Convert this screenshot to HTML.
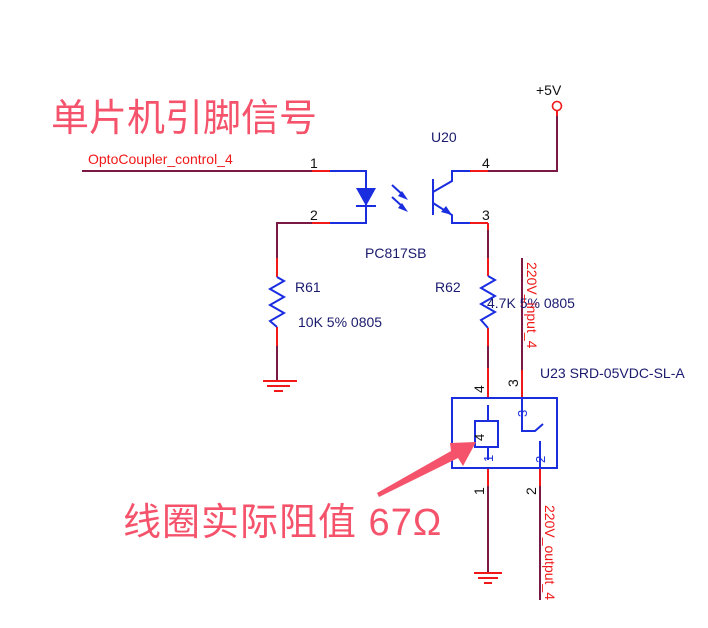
<!DOCTYPE html>
<html><head><meta charset="utf-8"><style>
html,body{margin:0;padding:0;background:#fff;}
svg{display:block;font-family:"Liberation Sans",Arial,sans-serif;}
.cn{font-family:"Liberation Sans","Noto Sans CJK SC",sans-serif;}
</style></head><body>
<svg width="708" height="628" viewBox="0 0 708 628" xmlns="http://www.w3.org/2000/svg">
<g fill="none" stroke-width="2">
<g stroke="#7a1a44">
<line x1="82" y1="171" x2="312" y2="171"/>
<polyline points="312,223 277,223 277,258"/>
<line x1="277" y1="346" x2="277" y2="381"/>
<polyline points="488,171 557,171 557,116"/>
<line x1="488" y1="223" x2="488" y2="258"/>
<line x1="488" y1="346" x2="488" y2="368"/>
<line x1="522" y1="258" x2="522" y2="370"/>
<line x1="488" y1="486" x2="488" y2="573"/>
<line x1="540" y1="486" x2="540" y2="600"/>
</g>
<g stroke="#f01818">
<line x1="312" y1="171" x2="330" y2="171"/>
<line x1="312" y1="223" x2="330" y2="223"/>
<line x1="470" y1="171" x2="488" y2="171"/>
<line x1="470" y1="223" x2="488" y2="223"/>
<line x1="488" y1="223" x2="488" y2="230"/>
<line x1="277" y1="258" x2="277" y2="277"/>
<line x1="277" y1="327" x2="277" y2="346"/>
<line x1="488" y1="258" x2="488" y2="276"/>
<line x1="488" y1="328" x2="488" y2="346"/>
<line x1="488" y1="368" x2="488" y2="398"/>
<line x1="522" y1="370" x2="522" y2="398"/>
<line x1="488" y1="468" x2="488" y2="486"/>
<line x1="540" y1="468" x2="540" y2="486"/>
<line x1="557" y1="116" x2="557" y2="111"/>
<line x1="263" y1="381" x2="297" y2="381"/>
<line x1="267" y1="386" x2="290" y2="386"/>
<line x1="274" y1="391" x2="283" y2="391"/>
<line x1="474" y1="573" x2="502" y2="573"/>
<line x1="478" y1="578" x2="498" y2="578"/>
<line x1="484" y1="583" x2="492" y2="583"/>
</g>
<circle cx="557" cy="106" r="4.5" stroke="#f01818" stroke-width="1.6"/>
<g stroke="#1a2ee0">
<polyline points="330,171 366,171 366,223 330,223"/>
<line x1="356" y1="206" x2="376" y2="206"/>
<polyline points="433,179 433,215"/>
<polyline points="433,192 452,181 452,171 470,171"/>
<polyline points="433,203 452,215 452,223 470,223"/>
<polyline points="277,277 284,281 270,289 284,297 270,305 284,313 270,321 277,327"/>
<polyline points="488,276 495,280 481,288 495,296 481,304 495,312 481,320 488,328"/>
<rect x="452" y="398" width="105" height="70"/>
<rect x="475" y="421" width="23" height="26"/>
<line x1="488" y1="405" x2="488" y2="421"/>
<line x1="488" y1="447" x2="488" y2="460"/>
<polyline points="522,398 522,431 535,431 543,424"/>
<line x1="540" y1="441" x2="540" y2="468"/>
<line x1="392" y1="185" x2="404" y2="196"/>
<line x1="392" y1="197" x2="404" y2="208"/>
</g>
</g>
<g fill="#1a2ee0">
<polygon points="356,188 376,188 366,206"/>
<polygon points="452,215 441,212 446,206"/>
<polygon points="408,200 398,196 402,191"/>
<polygon points="408,212 398,208 402,203"/>
</g>
<polygon points="377,493 451,451 450,443 476,442 463,466 458,458 379,497" fill="#f5536b"/>
<g font-size="14" fill="#1a1a6e">
<text x="431" y="142">U20</text>
<text x="365" y="258">PC817SB</text>
<text x="295" y="292">R61</text>
<text x="298" y="327">10K 5% 0805</text>
<text x="435" y="292">R62</text>
<text x="487" y="308">4.7K 5% 0805</text>
<text x="540" y="378">U23  SRD-05VDC-SL-A</text>
</g>
<g font-size="14" fill="#111">
<text x="310" y="168">1</text>
<text x="310" y="220">2</text>
<text x="482" y="168">4</text>
<text x="482" y="220">3</text>
<text x="536" y="95">+5V</text>
<text transform="translate(484,393) rotate(-90)">4</text>
<text transform="translate(518,387) rotate(-90)">3</text>
<text transform="translate(484,495) rotate(-90)">1</text>
<text transform="translate(536,495) rotate(-90)">2</text>
<text transform="translate(484,441) rotate(-90)" font-size="13">4</text>
</g>
<g font-size="13" fill="#1a2ee0">
<text transform="translate(493,462) rotate(-90)">1</text>
<text transform="translate(527,417) rotate(-90)">3</text>
<text transform="translate(545,463) rotate(-90)">2</text>
</g>
<g font-size="14" fill="#f01818">
<text x="88" y="164">OptoCoupler_control_4</text>
<text transform="translate(527,262) rotate(90)">220V_input_4</text>
<text transform="translate(545,505) rotate(90)">220V_output_4</text>
</g>
<text class="cn" x="51" y="131" font-size="38" fill="#f5536b">单片机引脚信号</text>
<text class="cn" x="123" y="535" font-size="38" fill="#f5536b" letter-spacing="1">线圈实际阻值 67Ω</text>
</svg>
</body></html>
